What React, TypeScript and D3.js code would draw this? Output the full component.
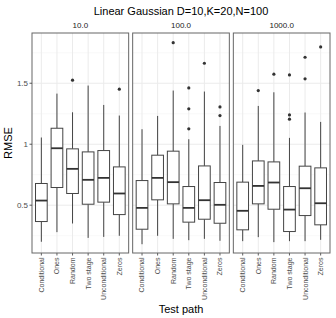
import React from "react";
import * as d3 from "d3";

// test paths (x categories) and facet labels
const categories = ["Conditional", "Ones", "Random", "Two stage", "Unconditional", "Zeros"];
const facets = ["10.0", "100.0", "1000.0"];

// [lower whisker, q1, median, q3, upper whisker] per category
const stats10 = [
  [0.2, 0.366, 0.538, 0.678, 1.055],
  [0.279, 0.645, 0.967, 1.131, 1.415],
  [0.35, 0.596, 0.798, 0.962, 1.262],
  [0.232, 0.508, 0.708, 0.937, 1.481],
  [0.24, 0.525, 0.724, 0.948, 1.322],
  [0.249, 0.423, 0.596, 0.814, 1.235],
];
const stats100 = [
  [0.18, 0.303, 0.478, 0.702, 1.123],
  [0.249, 0.544, 0.724, 0.91, 1.232],
  [0.224, 0.511, 0.689, 0.943, 1.44],
  [0.213, 0.361, 0.478, 0.653, 1.041],
  [0.224, 0.385, 0.541, 0.822, 1.432],
  [0.208, 0.352, 0.503, 0.686, 1.15],
];
const stats1000 = [
  [0.205, 0.298, 0.454, 0.689, 0.995],
  [0.238, 0.511, 0.658, 0.863, 1.314],
  [0.197, 0.467, 0.686, 0.855, 1.426],
  [0.205, 0.284, 0.464, 0.653, 1.052],
  [0.205, 0.415, 0.639, 0.82, 1.26],
  [0.216, 0.339, 0.516, 0.806, 1.183],
];

// outliers per category
const out10 = [[], [], [1.525], [], [], [1.451]];
const out100 = [[], [], [1.833], [1.462, 1.29, 1.126], [1.664], [1.306, 1.235]];
const out1000 = [[], [1.44], [1.574], [1.568, 1.24, 1.205], [1.713, 1.536], [1.798]];

const yMajor = [0.5, 1, 1.5];
const yMinor = [0.25, 0.75, 1.25, 1.75];

const allStats = [stats10, stats100, stats1000];
const allOut = [out10, out100, out1000];

const W = 336;
const H = 318;
const FONT = "Liberation Sans, Arial, Helvetica, sans-serif";

export default function App() {
  const left = 32;
  const right = 330;
  const top = 33;
  const bottom = 253;
  const gap = 4;
  const panelW = (right - left - gap * (facets.length - 1)) / facets.length;

  const y = d3.scaleLinear().domain([0.108, 1.912]).range([bottom, top]);
  const x = d3.scalePoint().domain(categories).range([0, panelW]).padding(0.6);
  const boxW = x.step() * 0.75;

  return (
    <svg
      width={W}
      height={H}
      style={{ position: "absolute", left: 0, top: 0, background: "#fff" }}
      fontFamily={FONT}
    >
      <text x={(left + right) / 2} y={15} textAnchor="middle" fontSize={11} fill="#000">
        Linear Gaussian D=10,K=20,N=100
      </text>

      {facets.map((f, fi) => {
        const x0 = left + fi * (panelW + gap);
        const stats = allStats[fi];
        const outs = allOut[fi];
        return (
          <g key={f} transform={`translate(${x0},0)`}>
            <text x={panelW / 2} y={28} textAnchor="middle" fontSize={8} fill="#1a1a1a">
              {f}
            </text>
            <rect x={0} y={top} width={panelW} height={bottom - top} fill="#fff" />
            {yMinor.map((v) => (
              <line key={"mn" + v} x1={0} x2={panelW} y1={y(v)} y2={y(v)} stroke="#f2f2f2" strokeWidth={0.5} />
            ))}
            {yMajor.map((v) => (
              <line key={"mj" + v} x1={0} x2={panelW} y1={y(v)} y2={y(v)} stroke="#ebebeb" strokeWidth={1} />
            ))}
            {categories.map((c) => (
              <line key={"vx" + c} x1={x(c)} x2={x(c)} y1={top} y2={bottom} stroke="#ebebeb" strokeWidth={1} />
            ))}
            {categories.map((c, i) => {
              const [lo, q1, med, q3, hi] = stats[i];
              const cx = x(c) as number;
              return (
                <g key={c}>
                  <line x1={cx} x2={cx} y1={y(q3)} y2={y(hi)} stroke="#444" strokeWidth={1} />
                  <line x1={cx} x2={cx} y1={y(q1)} y2={y(lo)} stroke="#444" strokeWidth={1} />
                  <rect
                    x={cx - boxW / 2}
                    y={y(q3)}
                    width={boxW}
                    height={y(q1) - y(q3)}
                    fill="#fff"
                    stroke="#444"
                    strokeWidth={1}
                  />
                  <line x1={cx - boxW / 2} x2={cx + boxW / 2} y1={y(med)} y2={y(med)} stroke="#333" strokeWidth={1.8} />
                  {outs[i].map((o, k) => (
                    <circle key={k} cx={cx} cy={y(o)} r={1.6} fill="#333" />
                  ))}
                  <line x1={cx} x2={cx} y1={bottom} y2={bottom + 2.5} stroke="#333" strokeWidth={0.8} />
                  <text
                    transform={`translate(${cx},${bottom + 4.5}) rotate(-90)`}
                    textAnchor="end"
                    dy="0.35em"
                    fontSize={7}
                    fill="#4d4d4d"
                  >
                    {c}
                  </text>
                </g>
              );
            })}
            <rect x={0} y={top} width={panelW} height={bottom - top} fill="none" stroke="#666" strokeWidth={1} />
          </g>
        );
      })}

      {yMajor.map((v) => (
        <g key={"yt" + v}>
          <line x1={left - 2.5} x2={left} y1={y(v)} y2={y(v)} stroke="#333" strokeWidth={0.8} />
          <text x={left - 4} y={y(v)} dy="0.35em" textAnchor="end" fontSize={8} fill="#4d4d4d">
            {d3.format("")(v)}
          </text>
        </g>
      ))}

      <text
        transform={`translate(12,${(top + bottom) / 2}) rotate(-90)`}
        textAnchor="middle"
        fontSize={11}
        fill="#000"
      >
        RMSE
      </text>
      <text x={(left + right) / 2} y={313} textAnchor="middle" fontSize={11} fill="#000">
        Test path
      </text>
    </svg>
  );
}
